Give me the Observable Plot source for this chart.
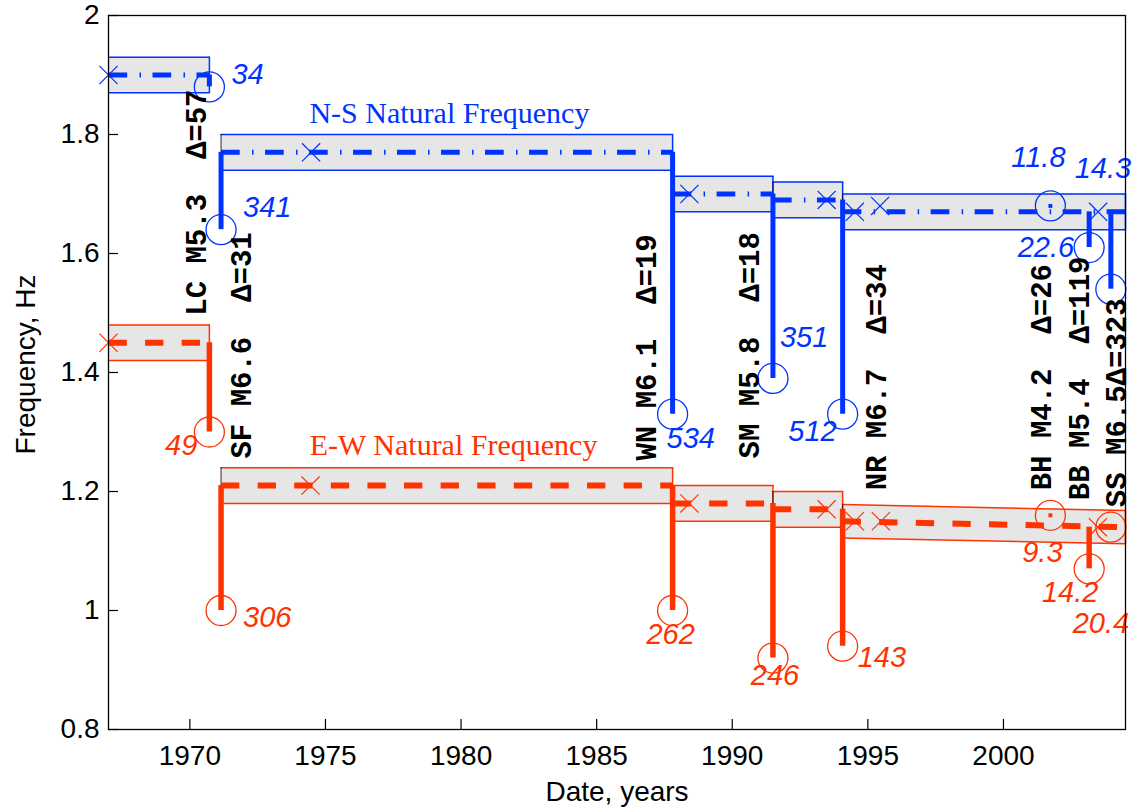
<!DOCTYPE html>
<html>
<head>
<meta charset="utf-8">
<script src="https://cdn.jsdelivr.net/npm/d3@7"></script>
<script src="https://cdn.jsdelivr.net/npm/@observablehq/plot@0.6"></script>
<style>
  html, body { margin: 0; padding: 0; background: #fff; }
  #chart svg { display: block; }
</style>
</head>
<body>
<div id="chart"></div>
<script>
// Identification windows between earthquakes (decimal years)
const segStart = [1967, 1971.15, 1987.8, 1991.5, 1994.07];
const segEnd   = [1970.72, 1987.8, 1991.5, 1994.07, 2004.5];

// Mean natural frequency in each window (Hz) and its spread
const nsFreqStart = [1.90, 1.77, 1.70, 1.69, 1.67];
const nsFreqEnd   = [1.90, 1.77, 1.70, 1.69, 1.67];
const nsSpread    = [0.03, 0.03, 0.03, 0.03, 0.03];
const ewFreqStart = [1.45, 1.21, 1.18, 1.17, 1.15];
const ewFreqEnd   = [1.45, 1.21, 1.18, 1.17, 1.14];
const ewSpread    = [0.03, 0.03, 0.03, 0.03, 0.028];

// Individual identifications (x markers)
const nsIdYear = [1967, 1974.47, 1988.42, 1993.48, 1994.52, 1995.45, 2003.49];
const nsIdFreq = [1.90, 1.77, 1.70, 1.69, 1.67, 1.68, 1.67];
const ewIdYear = [1967, 1974.45, 1988.42, 1993.48, 1994.52, 1995.48, 2003.48];
const ewIdFreq = [1.45, 1.21, 1.18, 1.17, 1.15, 1.15, 1.14];

// Earthquakes: name, magnitude, epicentral distance
const quakeName = ["LC M5.3  Δ=57", "SF M6.6  Δ=31", "WN M6.1  Δ=19", "SM M5.8  Δ=18",
                   "NR M6.7  Δ=34", "BH M4.2  Δ=26", "BB M5.4  Δ=119", "SS M6.5Δ=323"];
const quakeYear = [1970.72, 1971.15, 1987.8, 1991.5, 1994.07, 2001.73, 2003.16, 2003.96];

// Frequency before and during each earthquake, with peak response labels
const nsBefore = [1.90, 1.77, 1.77, 1.70, 1.69, 1.68, 1.67, 1.67];
const nsDuring = [1.88, 1.64, 1.33, 1.39, 1.33, 1.68, 1.61, 1.54];
const nsPeak   = ["34", "341", "534", "351", "512", "11.8", "22.6", "14.3"];
const ewBefore = [1.45, 1.21, 1.21, 1.18, 1.17, 1.16, 1.14, 1.14];
const ewDuring = [1.30, 1.00, 1.00, 0.92, 0.94, 1.16, 1.07, 1.14];
const ewPeak   = ["49", "306", "262", "246", "143", "9.3", "14.2", "20.4"];

// Axis ticks
const xTicks = [1970, 1975, 1980, 1985, 1990, 1995, 2000];
const yTicks = [0.8, 1, 1.2, 1.4, 1.6, 1.8, 2];

// ---- layout (pixel offsets for annotations) ----
const nsColor = "#0033ff";
const ewColor = "#ff3300";
const W = 1134, H = 811;
const M = {top: 15, right: 9, bottom: 82, left: 108};
const frameW = W - M.left - M.right;
const frameH = H - M.top - M.bottom;

// quake label: [dx, dy] from (year, E-W frequency before)
const quakeLabelOffset = [[-13, -27], [21, -27], [-26, -25], [-23, -45],
                          [34, -19], [-9, -25], [-9, -27], [6, -20]];
// peak labels: [dx, dy, anchor] from the circle
const nsPeakOffset = [[22, -12, "start"], [22, -22, "start"], [-6, 25, "start"], [7, -41, "start"],
                      [-6, 18, "end"], [-12, -48, "middle"], [-15, 0, "end"], [-8, -120, "middle"]];
const ewPeakOffset = [[-12, 14, "end"], [22, 7, "start"], [-2, 24, "middle"], [2, 18, "middle"],
                      [15, 12, "start"], [-8, 37, "middle"], [-19, 24, "middle"], [-10, 97, "middle"]];

function bandPoints(fs, fe, sp) {
  return segStart.flatMap((s, i) => [
    {seg: i, x: s, f: fs[i], lo: fs[i] - sp[i], hi: fs[i] + sp[i]},
    {seg: i, x: segEnd[i], f: fe[i], lo: fe[i] - sp[i], hi: fe[i] + sp[i]}
  ]);
}
function bandEdges(fs, fe, sp) {
  return segStart.map((s, i) => ({
    x0: s, x1: segEnd[i],
    lo0: fs[i] - sp[i], hi0: fs[i] + sp[i],
    lo1: fe[i] - sp[i], hi1: fe[i] + sp[i]
  }));
}
const nsBand = bandPoints(nsFreqStart, nsFreqEnd, nsSpread);
const ewBand = bandPoints(ewFreqStart, ewFreqEnd, ewSpread);
const nsEdges = bandEdges(nsFreqStart, nsFreqEnd, nsSpread);
const ewEdges = bandEdges(ewFreqStart, ewFreqEnd, ewSpread);

const nsIds = nsIdYear.map((x, i) => ({x, f: nsIdFreq[i]}));
const ewIds = ewIdYear.map((x, i) => ({x, f: ewIdFreq[i]}));
const quakes = quakeYear.map((x, i) => ({
  x, name: quakeName[i],
  nsB: nsBefore[i], nsD: nsDuring[i], nsP: nsPeak[i],
  ewB: ewBefore[i], ewD: ewDuring[i], ewP: ewPeak[i]
}));

function bandMarks(pts, edges, color) {
  return [
    Plot.areaY(pts, {x: "x", y1: "lo", y2: "hi", z: "seg", fill: "#e6e6e6", curve: "linear"}),
    Plot.line(pts, {x: "x", y: "hi", z: "seg", stroke: color, strokeWidth: 1.5}),
    Plot.line(pts, {x: "x", y: "lo", z: "seg", stroke: color, strokeWidth: 1.5}),
    Plot.ruleX(edges, {x: "x1", y1: "lo1", y2: "hi1", stroke: color, strokeWidth: 1.5}),
    Plot.ruleX(edges, {x: "x0", y1: "lo0", y2: "hi0", stroke: "#000", strokeWidth: 0.8})
  ];
}

const marks = [
  ...bandMarks(nsBand, nsEdges, nsColor),
  ...bandMarks(ewBand, ewEdges, ewColor),

  // mean frequency lines
  Plot.line(nsBand, {x: "x", y: "f", z: "seg", stroke: nsColor, strokeWidth: 5,
    strokeDasharray: "18.7,12.3,1.5,11.5", strokeLinecap: "butt"}),
  Plot.line(ewBand, {x: "x", y: "f", z: "seg", stroke: ewColor, strokeWidth: 6,
    strokeDasharray: "18.3,18.3", strokeLinecap: "butt"}),

  // drop during each earthquake
  Plot.ruleX(quakes, {x: "x", y1: "nsB", y2: "nsD", stroke: nsColor, strokeWidth: 5}),
  Plot.ruleX(quakes, {x: "x", y1: "ewB", y2: "ewD", stroke: ewColor, strokeWidth: 5.5}),
  Plot.dot(quakes.filter(d => d.nsB === d.nsD), {x: "x", y: "nsD", symbol: "square", r: 2.2, fill: nsColor}),
  Plot.dot(quakes.filter(d => d.ewB === d.ewD), {x: "x", y: "ewD", symbol: "square", r: 2.2, fill: ewColor}),

  // identifications
  Plot.dot(nsIds, {x: "x", y: "f", symbol: "times", r: 8.3, stroke: nsColor, strokeWidth: 1.2}),
  Plot.dot(ewIds, {x: "x", y: "f", symbol: "times", r: 8.3, stroke: ewColor, strokeWidth: 1.2}),

  // frequency during shaking
  Plot.dot(quakes, {x: "x", y: "nsD", r: 15, stroke: nsColor, fill: "none", strokeWidth: 1.3}),
  Plot.dot(quakes, {x: "x", y: "ewD", r: 15, stroke: ewColor, fill: "none", strokeWidth: 1.3}),

  // peak response labels
  ...quakes.map((q, i) => Plot.text([q], {x: "x", y: "nsD", text: "nsP",
    dx: nsPeakOffset[i][0], dy: nsPeakOffset[i][1], textAnchor: nsPeakOffset[i][2],
    fill: nsColor, fontSize: 29, fontStyle: "italic", fontFamily: "Liberation Sans, Arial, sans-serif"})),
  ...quakes.map((q, i) => Plot.text([q], {x: "x", y: "ewD", text: "ewP",
    dx: ewPeakOffset[i][0], dy: ewPeakOffset[i][1], textAnchor: ewPeakOffset[i][2],
    fill: ewColor, fontSize: 29, fontStyle: "italic", fontFamily: "Liberation Sans, Arial, sans-serif"})),

  // earthquake labels
  ...quakes.map((q, i) => Plot.text([q], {x: "x", y: "ewB", text: "name",
    dx: quakeLabelOffset[i][0], dy: quakeLabelOffset[i][1], rotate: -90, textAnchor: "start",
    lineAnchor: "middle", fill: "#000", fontSize: 29, fontWeight: "bold",
    fontFamily: "Liberation Mono, Courier New, monospace"})),

  // series titles
  Plot.text(["N-S Natural Frequency"], {x: 1974.41, y: 1.835, text: d => d, textAnchor: "start",
    fill: nsColor, fontSize: 30, fontFamily: "Liberation Serif, Times New Roman, serif"}),
  Plot.text(["E-W Natural Frequency"], {x: 1974.42, y: 1.277, text: d => d, textAnchor: "start",
    fill: ewColor, fontSize: 30, fontFamily: "Liberation Serif, Times New Roman, serif"}),

  // axes
  Plot.frame({stroke: "#000", strokeWidth: 1.3}),
  Plot.tickY(yTicks, {y: d => d, insetRight: frameW - 10, stroke: "#000", strokeWidth: 1.2}),
  Plot.tickX(xTicks, {x: d => d, insetTop: frameH - 10, stroke: "#000", strokeWidth: 1.2}),
  Plot.axisY(yTicks, {tickSize: 0, tickPadding: 9, tickFormat: d => String(d), label: null, fontSize: 28}),
  Plot.axisX(xTicks, {tickSize: 0, tickPadding: 16, tickFormat: d => String(d), label: null, fontSize: 28}),
  Plot.text(["Date, years"], {frameAnchor: "bottom", dy: 63, text: d => d, fontSize: 28,
    textAnchor: "middle", lineAnchor: "middle"}),
  Plot.text(["Frequency, Hz"], {frameAnchor: "left", dx: -82, dy: -8, rotate: -90, text: d => d, fontSize: 28,
    textAnchor: "middle", lineAnchor: "middle"})
];

const chart = Plot.plot({
  width: W,
  height: H,
  marginTop: M.top,
  marginRight: M.right,
  marginBottom: M.bottom,
  marginLeft: M.left,
  x: {domain: [1967, 2004.5], axis: null},
  y: {domain: [0.8, 2], axis: null},
  style: {fontFamily: "Liberation Sans, Arial, sans-serif", color: "#000", background: "#fff", overflow: "visible"},
  marks
});
document.getElementById("chart").append(chart);
</script>
</body>
</html>
